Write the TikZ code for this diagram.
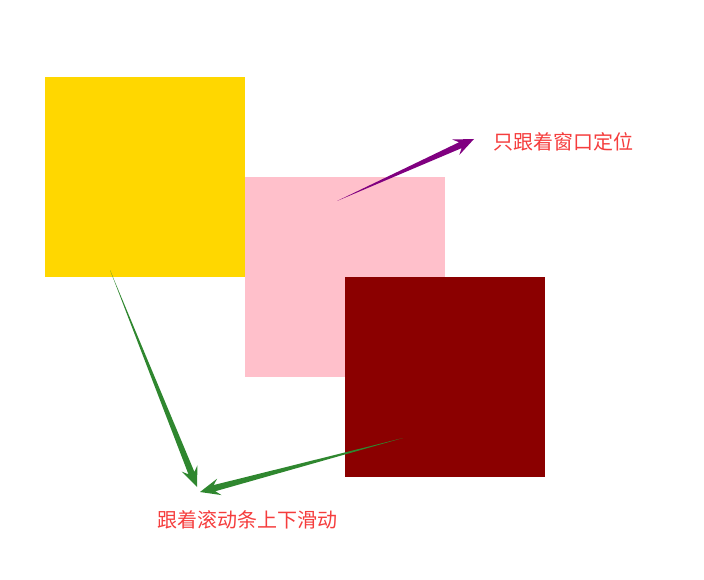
\documentclass[tikz,border=0pt]{standalone}
\usepackage{fontspec}
\newfontfamily\cjk{Noto Sans CJK SC}
\usetikzlibrary{calc}
\definecolor{boxgold}{HTML}{FFD700}
\definecolor{boxpink}{HTML}{FFC0CB}
\definecolor{boxred}{HTML}{8B0000}
\definecolor{arrgreen}{HTML}{2F872F}
\definecolor{arrpurple}{HTML}{800080}
\definecolor{labred}{HTML}{F53D3D}
\newcommand\taperarrow[3]{%
  \fill[#1] (#2) -- ($(#3)!15pt!(#2)!3.2pt!90:(#2)$) -- ($(#3)!20pt!(#2)!8.5pt!90:(#2)$) -- (#3)
    -- ($(#3)!20pt!(#2)!8.5pt!-90:(#2)$) -- ($(#3)!15pt!(#2)!3.2pt!-90:(#2)$) -- cycle;}
\begin{document}
\begin{tikzpicture}[x=1pt,y=-1pt,
  box/.style={inner sep=0pt,outer sep=0pt,minimum width=200pt,minimum height=200pt,anchor=north west},
  lab/.style={text=labred,font=\cjk\fontsize{20}{24}\selectfont,inner sep=0pt}]
\useasboundingbox (0,0) rectangle (704,580);
\node[box,fill=boxgold] (yellow) at (45,77) {};
\node[box,fill=boxpink] (pink) at (245,177) {};
\node[box,fill=boxred] (dark) at (345,277) {};
\node[lab,anchor=west] (top) at (493,142) {只跟着窗口定位};
\node[lab] (bottom) at (247,520) {跟着滚动条上下滑动};
\coordinate (p1) at (337,201);
\coordinate (p2) at (474,139);
\coordinate (g1) at (110,270);
\coordinate (g2) at (197,487);
\coordinate (h1) at (403,438);
\coordinate (h2) at (200,492);
\taperarrow{arrpurple}{p1}{p2}
\taperarrow{arrgreen}{g1}{g2}
\taperarrow{arrgreen}{h1}{h2}
\end{tikzpicture}
\end{document}
